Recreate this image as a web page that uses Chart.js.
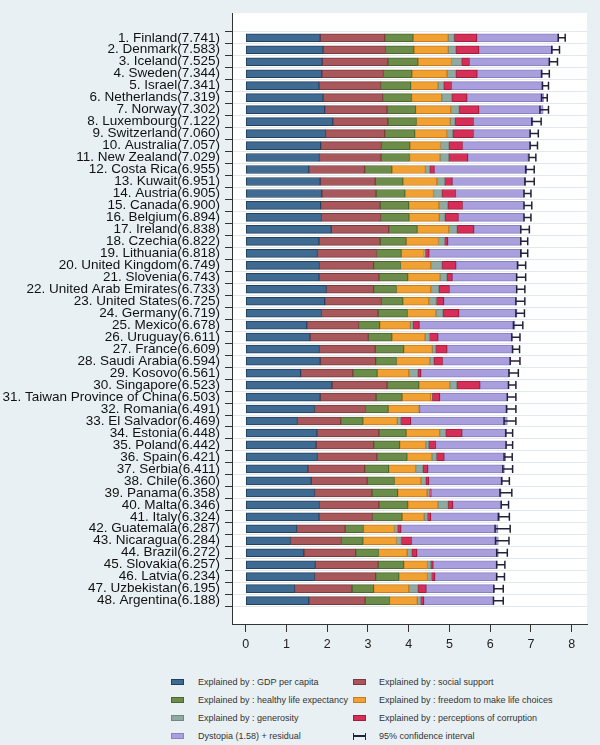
<!DOCTYPE html>
<html>
<head>
<meta charset="utf-8">
<script src="https://cdn.jsdelivr.net/npm/chart.js@4.4.0/dist/chart.umd.min.js"></script>
<style>
  body { margin: 0; background: #e9f0f3; }
  #wrap { position: relative; width: 600px; height: 745px; overflow: hidden; }
  #chart { position: absolute; left: 0; top: 0; }
  .leg { position: absolute; font-family: "Liberation Sans", Arial, sans-serif; font-size: 9px; color: #333; line-height: 10px; white-space: nowrap; }
  .sw { position: absolute; width: 13px; height: 6px; box-sizing: border-box; border: 1px solid; }
  .ci { position: absolute; width: 13px; height: 7px; box-sizing: border-box; border-left: 1.5px solid #22223a; border-right: 1.5px solid #22223a; }
  .ci::after { content: ''; position: absolute; left: 0; right: 0; top: 2.5px; height: 1.5px; background: #22223a; }
</style>
</head>
<body>
<div id="wrap">
  <canvas id="chart" width="600" height="665"></canvas>
  <div id="legend"></div>
</div>
<script>
var countries = ['Finland', 'Denmark', 'Iceland', 'Sweden', 'Israel', 'Netherlands', 'Norway', 'Luxembourg',
  'Switzerland', 'Australia', 'New Zealand', 'Costa Rica', 'Kuwait', 'Austria', 'Canada', 'Belgium',
  'Ireland', 'Czechia', 'Lithuania', 'United Kingdom', 'Slovenia', 'United Arab Emirates', 'United States', 'Germany',
  'Mexico', 'Uruguay', 'France', 'Saudi Arabia', 'Kosovo', 'Singapore', 'Taiwan Province of China', 'Romania',
  'El Salvador', 'Estonia', 'Poland', 'Spain', 'Serbia', 'Chile', 'Panama', 'Malta',
  'Italy', 'Guatemala', 'Nicaragua', 'Brazil', 'Slovakia', 'Latvia', 'Uzbekistan', 'Argentina'];

var scores = [7.741, 7.583, 7.525, 7.344, 7.341, 7.319, 7.302, 7.122, 7.060, 7.057, 7.029, 6.955,
  6.951, 6.905, 6.900, 6.894, 6.838, 6.822, 6.818, 6.749, 6.743, 6.733, 6.725, 6.719,
  6.678, 6.611, 6.609, 6.594, 6.561, 6.523, 6.503, 6.491, 6.469, 6.448, 6.442, 6.421,
  6.411, 6.360, 6.358, 6.346, 6.324, 6.287, 6.284, 6.272, 6.257, 6.234, 6.195, 6.188];

var gdp = [1.83, 1.90, 1.88, 1.87, 1.80, 1.90, 1.94, 2.14, 1.96, 1.84, 1.81, 1.55,
  1.83, 1.87, 1.84, 1.86, 2.10, 1.80, 1.76, 1.81, 1.80, 1.98, 1.94, 1.86,
  1.50, 1.58, 1.81, 1.83, 1.35, 2.12, 1.83, 1.69, 1.27, 1.75, 1.73, 1.76,
  1.53, 1.61, 1.69, 1.81, 1.80, 1.25, 1.10, 1.43, 1.71, 1.69, 1.20, 1.55];

var social = [1.58, 1.53, 1.61, 1.51, 1.51, 1.46, 1.53, 1.35, 1.45, 1.49, 1.51, 1.37,
  1.35, 1.33, 1.46, 1.45, 1.41, 1.50, 1.45, 1.33, 1.47, 1.16, 1.39, 1.39,
  1.27, 1.43, 1.37, 1.36, 1.28, 1.35, 1.37, 1.25, 1.06, 1.52, 1.41, 1.46,
  1.39, 1.37, 1.41, 1.46, 1.31, 1.19, 1.25, 1.27, 1.54, 1.50, 1.41, 1.38];

var health = [0.70, 0.70, 0.74, 0.70, 0.74, 0.71, 0.70, 0.70, 0.74, 0.70, 0.70, 0.67,
  0.68, 0.71, 0.70, 0.70, 0.70, 0.64, 0.61, 0.66, 0.71, 0.56, 0.53, 0.72,
  0.52, 0.58, 0.70, 0.51, 0.60, 0.78, 0.64, 0.56, 0.55, 0.67, 0.64, 0.74,
  0.59, 0.67, 0.63, 0.71, 0.73, 0.45, 0.53, 0.56, 0.63, 0.57, 0.53, 0.60];

var freedom = [0.86, 0.84, 0.82, 0.86, 0.67, 0.74, 0.86, 0.83, 0.78, 0.75, 0.75, 0.82,
  0.83, 0.70, 0.74, 0.74, 0.77, 0.79, 0.56, 0.74, 0.79, 0.84, 0.63, 0.70,
  0.75, 0.81, 0.70, 0.82, 0.77, 0.76, 0.70, 0.74, 0.84, 0.82, 0.64, 0.61,
  0.66, 0.65, 0.72, 0.74, 0.54, 0.76, 0.82, 0.70, 0.58, 0.70, 0.86, 0.68];

var generosity = [0.15, 0.19, 0.25, 0.22, 0.14, 0.25, 0.21, 0.12, 0.15, 0.21, 0.21, 0.11,
  0.19, 0.21, 0.22, 0.14, 0.21, 0.15, 0.03, 0.28, 0.17, 0.20, 0.19, 0.17,
  0.07, 0.11, 0.08, 0.10, 0.23, 0.17, 0.04, 0.02, 0.08, 0.15, 0.07, 0.11,
  0.18, 0.12, 0.06, 0.25, 0.08, 0.08, 0.12, 0.12, 0.08, 0.10, 0.23, 0.08];

var corruption = [0.55, 0.56, 0.19, 0.52, 0.19, 0.37, 0.48, 0.45, 0.51, 0.33, 0.47, 0.11,
  0.19, 0.33, 0.36, 0.33, 0.41, 0.08, 0.09, 0.34, 0.13, 0.26, 0.18, 0.39,
  0.15, 0.21, 0.28, 0.21, 0.07, 0.57, 0.18, 0.01, 0.25, 0.40, 0.17, 0.19,
  0.12, 0.07, 0.04, 0.11, 0.08, 0.08, 0.25, 0.12, 0.06, 0.08, 0.20, 0.08];

var dystopia = [2.00, 1.81, 1.98, 1.60, 2.25, 1.88, 1.58, 1.46, 1.39, 1.65, 1.48, 2.27,
  1.80, 1.67, 1.50, 1.61, 1.16, 1.80, 2.27, 1.53, 1.57, 1.65, 1.78, 1.43,
  2.35, 1.82, 1.60, 1.67, 2.17, 0.69, 1.67, 2.15, 2.37, 1.09, 1.73, 1.51,
  1.88, 1.81, 1.72, 1.20, 1.69, 2.38, 2.13, 2.00, 1.55, 1.51, 1.67, 1.72];

var ciLow = [7.67, 7.51, 7.45, 7.26, 7.28, 7.26, 7.22, 7.02, 6.98, 6.98, 6.95, 6.87,
  6.85, 6.83, 6.83, 6.83, 6.75, 6.75, 6.75, 6.67, 6.65, 6.65, 6.63, 6.63,
  6.57, 6.53, 6.55, 6.49, 6.46, 6.45, 6.42, 6.40, 6.34, 6.38, 6.39, 6.34,
  6.31, 6.28, 6.24, 6.27, 6.20, 6.12, 6.13, 6.16, 6.16, 6.16, 6.09, 6.08];

var ciHigh = [7.84, 7.70, 7.65, 7.45, 7.43, 7.40, 7.43, 7.25, 7.18, 7.16, 7.12, 7.08,
  7.08, 7.00, 7.02, 7.00, 6.96, 6.92, 6.92, 6.87, 6.87, 6.85, 6.85, 6.84,
  6.80, 6.73, 6.72, 6.73, 6.69, 6.63, 6.63, 6.63, 6.63, 6.55, 6.55, 6.54,
  6.55, 6.47, 6.53, 6.45, 6.47, 6.49, 6.46, 6.42, 6.36, 6.35, 6.32, 6.32];

var xTicks = [0, 1, 2, 3, 4, 5, 6, 7, 8];

var labels = countries.map(function (name, i) {
  return (i + 1) + '. ' + name + '(' + scores[i].toFixed(3) + ')';
});

var series = [
  { label: 'Explained by : GDP per capita', data: gdp, color: '#3f6a92', edge: '#22415f' },
  { label: 'Explained by : social support', data: social, color: '#a8575b', edge: '#7c3a3e' },
  { label: 'Explained by : healthy life expectancy', data: health, color: '#6c8c49', edge: '#4b672f' },
  { label: 'Explained by : freedom to make life choices', data: freedom, color: '#f1a032', edge: '#c87d1c' },
  { label: 'Explained by : generosity', data: generosity, color: '#90a9a1', edge: '#6f8a82' },
  { label: 'Explained by : perceptions of corruption', data: corruption, color: '#d62f57', edge: '#a11b3f' },
  { label: 'Dystopia (1.58) + residual', data: dystopia, color: '#a99fdd', edge: '#8a80c4' }
];

var datasets = series.map(function (s) {
  return {
    label: s.label,
    data: s.data.map(function (v, i) { return { x: v, y: i }; }),
    backgroundColor: s.color,
    borderColor: s.edge,
    borderWidth: 1,
    borderSkipped: false,
    barThickness: 8
  };
});

var plotBg = {
  id: 'plotBg',
  beforeDraw: function (chart) {
    var a = chart.chartArea, ctx = chart.ctx;
    ctx.save();
    ctx.fillStyle = '#ffffff';
    ctx.fillRect(a.left, a.top, a.right - a.left, a.bottom - a.top);
    ctx.restore();
  }
};

var errorBars = {
  id: 'errorBars',
  afterDatasetsDraw: function (chart) {
    var ctx = chart.ctx, xs = chart.scales.x, ys = chart.scales.y;
    ctx.save();
    ctx.strokeStyle = '#22223a';
    ctx.lineWidth = 1.5;
    ciLow.forEach(function (lo, i) {
      var x1 = xs.getPixelForValue(lo), x2 = xs.getPixelForValue(ciHigh[i]);
      var y = ys.getPixelForValue(i);
      ctx.beginPath();
      ctx.moveTo(x1, y); ctx.lineTo(x2, y);
      ctx.moveTo(x1, y - 4); ctx.lineTo(x1, y + 4);
      ctx.moveTo(x2, y - 4); ctx.lineTo(x2, y + 4);
      ctx.stroke();
    });
    ctx.restore();
  }
};

Chart.defaults.font.family = '"Liberation Sans", Arial, sans-serif';

new Chart(document.getElementById('chart').getContext('2d'), {
  type: 'bar',
  data: { datasets: datasets },
  options: {
    indexAxis: 'y',
    responsive: false,
    animation: false,
    layout: { padding: { left: 0, right: 13, top: 13, bottom: 11 } },
    plugins: { legend: { display: false }, tooltip: { enabled: false } },
    scales: {
      x: {
        type: 'linear',
        stacked: true,
        min: -0.336,
        max: 8.375,
        afterBuildTicks: function (scale) {
          scale.ticks = xTicks.map(function (v) { return { value: v }; });
        },
        afterFit: function (scale) { scale.height = 30; },
        grid: { drawOnChartArea: false, tickLength: 8, tickColor: '#333', lineWidth: 1 },
        border: { display: true, color: '#333', width: 1 },
        ticks: { color: '#222', font: { size: 12.5 }, padding: 5 }
      },
      y: {
        type: 'linear',
        stacked: true,
        reverse: true,
        min: -1.53,
        max: 48.42,
        afterBuildTicks: function (scale) {
          scale.ticks = countries.map(function (c, i) { return { value: i }; });
        },
        afterFit: function (scale) { scale.width = 232; },
        grid: { color: '#e2e9ec', tickColor: '#333', tickLength: 7, lineWidth: 1 },
        border: { display: true, color: '#333', width: 1 },
        ticks: {
          autoSkip: false,
          color: '#111',
          font: { size: 13.5 },
          padding: 5,
          callback: function (v) { return labels[v]; }
        }
      }
    }
  },
  plugins: [plotBg, errorBars]
});

// legend below the chart, two columns like the original
var legendItems = series.map(function (s) { return { label: s.label, color: s.color, edge: s.edge }; });
legendItems.push({ label: '95% confidence interval', ci: true });
var legend = document.getElementById('legend');
legendItems.forEach(function (item, i) {
  var col = i % 2, row = Math.floor(i / 2);
  var cy = 682 + row * 18;
  var mark = document.createElement('div');
  if (item.ci) {
    mark.className = 'ci';
    mark.style.top = (cy - 3.5) + 'px';
  } else {
    mark.className = 'sw';
    mark.style.background = item.color;
    mark.style.borderColor = item.edge;
    mark.style.top = (cy - 3) + 'px';
  }
  mark.style.left = (col ? 353 : 171) + 'px';
  legend.appendChild(mark);
  var txt = document.createElement('div');
  txt.className = 'leg';
  txt.textContent = item.label;
  txt.style.left = (col ? 379 : 198) + 'px';
  txt.style.top = (cy - 5) + 'px';
  legend.appendChild(txt);
});
</script>
</body>
</html>
